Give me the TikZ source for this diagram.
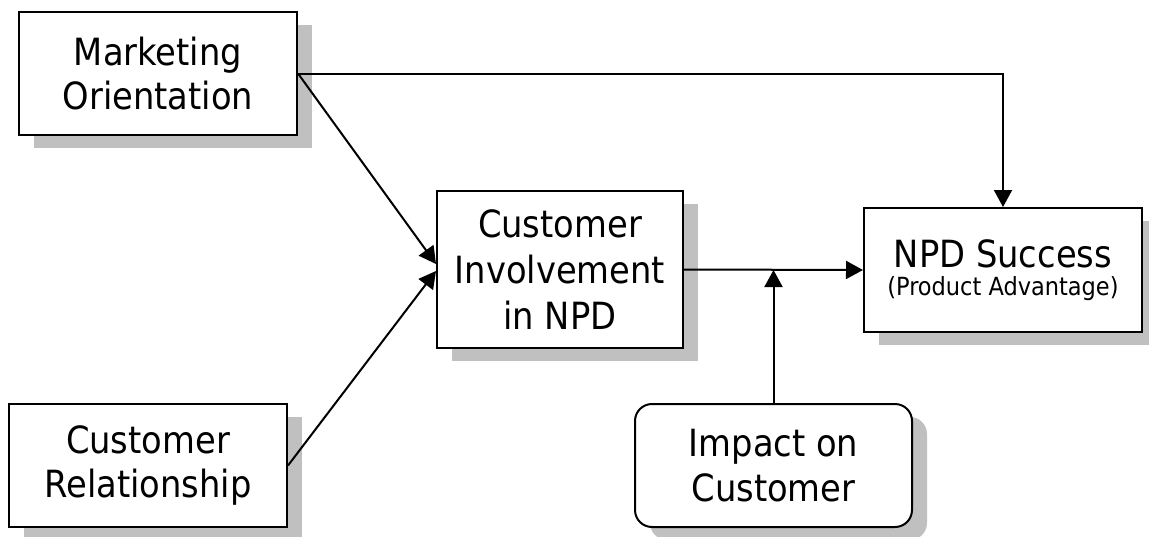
\documentclass[tikz,border=0pt]{standalone}
\usepackage{fontspec}
\setmainfont{DejaVu Sans Condensed}
\usetikzlibrary{arrows.meta,shadows}
\definecolor{shadegray}{HTML}{C0C0C0}
\tikzset{
  box/.style={draw=black, line width=2pt, fill=white, align=center,
    inner sep=0pt, font=\fontsize{37.5}{44.5}\selectfont,
    drop shadow={shadow xshift=15pt, shadow yshift=-13pt,
      fill=shadegray, draw=none, opacity=1}},
  arr/.style={line width=2pt, -{Triangle[length=17pt,width=18pt]}}
}
\begin{document}
\begin{tikzpicture}[x=1pt, y=-1pt]
\useasboundingbox (0,0) rectangle (1149,536);

% factor boxes
\node[box, minimum width=278pt, minimum height=123pt] (mo) at (158,73.5)
  {Marketing\\Orientation};
\node[box, minimum width=278pt, minimum height=123pt] (cr) at (148,465.5)
  {Customer\\Relationship};
\node[box, minimum width=246pt, minimum height=157pt,
  font=\fontsize{37.5}{46}\selectfont] (ci) at (560,269.5)
  {Customer\\Involvement\\in NPD};
\node[box, minimum width=278pt, minimum height=124pt] (npd) at (1003,270)
  {NPD Success\\[-16pt]{\fontsize{25}{26}\selectfont (Product Advantage)}};
\node[box, rounded corners=17pt, minimum width=277pt, minimum height=123pt]
  (imp) at (773.5,465.5) {Impact on\\Customer};

% connectors
\draw[arr] (mo.east) -| (npd.north);
\draw[arr] (mo.east) -- ([yshift=5.5pt]ci.west);
\draw[arr] (cr.east) -- ([yshift=-1.5pt]ci.west);
\draw[arr] (ci.east) -- (npd.west);
\coordinate (meet) at (imp.north |- npd.west);
\draw[arr] (imp.north) -- (meet);
\end{tikzpicture}
\end{document}
